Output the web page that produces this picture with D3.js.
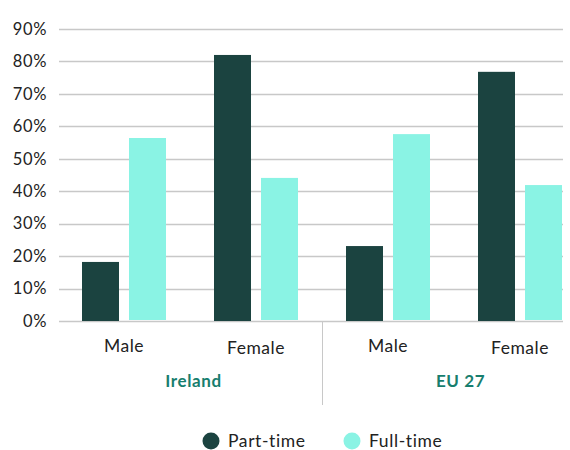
<!DOCTYPE html>
<html><head><meta charset="utf-8">
<script src="https://cdn.jsdelivr.net/npm/d3@7"></script>
<style>body{margin:0;background:#fff}svg{display:block;font-family:Lato,"Open Sans",sans-serif}</style>
</head><body><svg id="c" width="570" height="450"></svg>
<script>
const groups = ["Ireland", "EU 27"];
const categories = ["Male", "Female", "Male", "Female"];
const categoryGroup = ["Ireland", "Ireland", "EU 27", "EU 27"];
const seriesNames = ["Part-time", "Full-time"];
const partTime = [18.2, 82.0, 23.1, 76.8];
const fullTime = [56.4, 44.1, 57.6, 41.9];
const yTicks = [0, 10, 20, 30, 40, 50, 60, 70, 80, 90];
const colors = ["#1b4340", "#8af3e4"];

const svg = d3.select("#c");
const plot = {left: 59, right: 563, top: 29, bottom: 321};
const y = d3.scaleLinear().domain([0, 90]).range([plot.bottom, plot.top]);
const x = d3.scaleBand().domain(d3.range(categories.length)).range([58, 586]).paddingInner(0).paddingOuter(0);
const xs = d3.scaleBand().domain(seriesNames).range([24, 108]).paddingInner(10 / 47);
const gx = d3.scaleBand().domain(groups).range([60, 594]);

// grid
svg.append("g").selectAll("line").data(yTicks).join("line")
  .attr("x1", plot.left).attr("x2", plot.right)
  .attr("y1", d => Math.round(y(d)) + 0.5).attr("y2", d => Math.round(y(d)) + 0.5)
  .attr("stroke", "#c8c8c8").attr("stroke-width", 1.3);

// y axis labels
const yAxis = d3.axisLeft(y).tickValues(yTicks).tickFormat(d => d + "%").tickSize(0).tickPadding(0);
const ya = svg.append("g").attr("transform", `translate(47,0)`).call(yAxis);
ya.select(".domain").remove();
ya.selectAll("text").attr("font-size", 16.5).attr("letter-spacing", 0.6).attr("fill", "#222").attr("font-family", "Lato,sans-serif");

// bars
const data = categories.map((c, i) => ({i, vals: [partTime[i], fullTime[i]]}));
const gBars = svg.append("g").selectAll("g").data(data).join("g")
  .attr("transform", d => `translate(${x(d.i)},0)`);
gBars.selectAll("rect").data(d => d.vals.map((v, k) => ({v, k}))).join("rect")
  .attr("x", d => xs(seriesNames[d.k]))
  .attr("width", xs.bandwidth())
  .attr("y", d => y(d.v))
  .attr("height", d => y(0) - y(d.v) - (d.k === 1 ? 1 : 0))
  .attr("fill", d => colors[d.k]);

// separator
svg.append("line").attr("x1", 322.5).attr("x2", 322.5).attr("y1", plot.bottom).attr("y2", 405)
  .attr("stroke", "#c8c8c8").attr("stroke-width", 1);

// category labels
svg.append("g").selectAll("text").data(categories).join("text")
  .attr("x", (d, i) => x(i) + x.bandwidth() / 2)
  .attr("y", (d, i) => i % 2 ? 354 : 352)
  .attr("text-anchor", "middle").attr("font-size", 17.5).attr("letter-spacing", 0.5).attr("fill", "#222")
  .text(d => d);

// group labels
svg.append("g").selectAll("text").data(groups).join("text")
  .attr("x", d => gx(d) + gx.bandwidth() / 2)
  .attr("y", 387)
  .attr("text-anchor", "middle").attr("font-size", 17).attr("letter-spacing", 0.6).attr("font-weight", "bold").attr("fill", "#177e6e")
  .text(d => d);

// legend
const legX = [211, 352];
const leg = svg.append("g").selectAll("g").data(seriesNames).join("g")
  .attr("transform", (d, i) => `translate(${legX[i]},441)`);
leg.append("circle").attr("r", 8.5).attr("fill", (d, i) => colors[i]);
leg.append("text").attr("x", 17).attr("y", 6).attr("font-size", 17.5).attr("letter-spacing", 0.6).attr("fill", "#222").text(d => d);
</script></body></html>
